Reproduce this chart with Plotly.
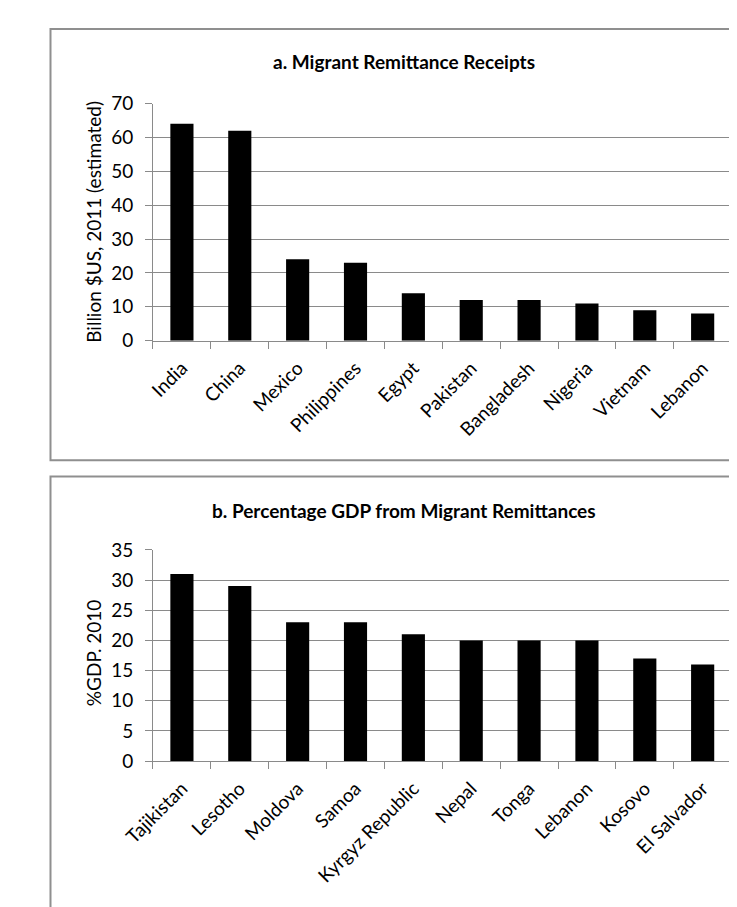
import plotly.graph_objects as go

W, H = 737, 907

# ---- data ----
countries_a = ["India", "China", "Mexico", "Philippines", "Egypt", "Pakistan",
               "Bangladesh", "Nigeria", "Vietnam", "Lebanon"]
receipts_a = [64, 62, 24, 23, 14, 12, 12, 11, 9, 8]

countries_b = ["Tajikistan", "Lesotho", "Moldova", "Samoa", "Kyrgyz Republic",
               "Nepal", "Tonga", "Lebanon", "Kosovo", "El Salvador"]
pct_gdp_b = [31, 29, 23, 23, 21, 20, 20, 20, 17, 16]

title_a = "a. Migrant Remittance Receipts"
title_b = "b. Percentage GDP from Migrant Remittances"
ytitle_a = "Billion $US, 2011 (estimated)"
ytitle_b = "%GDP. 2010"

FONT = "Lato"
FS = 19
GRID = "#8a8a8a"


def px_x(x):
    return x / W


def px_y(y):
    return 1 - y / H


fig = go.Figure()
fig.add_trace(go.Bar(x=countries_a, y=receipts_a, marker=dict(color="black", line=dict(width=0)),
                     width=0.4, xaxis="x", yaxis="y", showlegend=False))
fig.add_trace(go.Bar(x=countries_b, y=pct_gdp_b, marker=dict(color="black", line=dict(width=0)),
                     width=0.4, xaxis="x2", yaxis="y2", showlegend=False))

xcommon = dict(type="category", showgrid=False, showline=True, linecolor=GRID, linewidth=1,
               ticks="outside", tickson="boundaries", ticklen=7, tickcolor=GRID, tickwidth=1,
               tickangle=-45, tickfont=dict(family=FONT, size=FS, color="black"),
               ticklabelstandoff=8, fixedrange=True)
ycommon = dict(showgrid=True, gridcolor=GRID, gridwidth=1, showline=True, linecolor=GRID,
               linewidth=1, ticks="outside", ticklen=7, tickcolor=GRID, tickwidth=1,
               tickfont=dict(family=FONT, size=FS, color="black"), zeroline=False,
               ticklabelstandoff=8, fixedrange=True)

fig.update_layout(
    width=W, height=H, autosize=False,
    margin=dict(l=0, r=0, t=0, b=0),
    paper_bgcolor="white", plot_bgcolor="white",
    font=dict(family=FONT, size=FS, color="black"),
    bargap=0.6,
    xaxis=dict(domain=[px_x(119), px_x(723)], anchor="y", **xcommon),
    yaxis=dict(domain=[px_y(329), px_y(85.7)], anchor="x", range=[0, 70], dtick=10, **ycommon),
    xaxis2=dict(domain=[px_x(119), px_x(723)], anchor="y2", **xcommon),
    yaxis2=dict(domain=[px_y(760.3), px_y(543.7)], anchor="x2", range=[0, 35], dtick=5, **ycommon),
    shapes=[
        dict(type="rect", xref="paper", yref="paper", x0=px_x(12), x1=px_x(760),
             y0=px_y(451.7), y1=px_y(9.3), line=dict(color="#8f8f8f", width=2)),
        dict(type="rect", xref="paper", yref="paper", x0=px_x(12), x1=px_x(760),
             y0=px_y(960), y1=px_y(468.3), line=dict(color="#8f8f8f", width=2)),
    ],
    annotations=[
        dict(text="<b>" + title_a + "</b>", xref="paper", yref="paper", x=px_x(381), y=px_y(43),
             xanchor="center", yanchor="middle", showarrow=False, font=dict(family=FONT, size=FS)),
        dict(text="<b>" + title_b + "</b>", xref="paper", yref="paper", x=px_x(381), y=px_y(503),
             xanchor="center", yanchor="middle", showarrow=False, font=dict(family=FONT, size=FS)),
        dict(text=ytitle_a, xref="paper", yref="paper", x=px_x(57), y=px_y(207.4), textangle=-90,
             xanchor="center", yanchor="middle", showarrow=False, font=dict(family=FONT, size=FS)),
        dict(text=ytitle_b, xref="paper", yref="paper", x=px_x(57), y=px_y(649), textangle=-90,
             xanchor="center", yanchor="middle", showarrow=False, font=dict(family=FONT, size=FS)),
    ],
)

fig.write_html("out.html")
